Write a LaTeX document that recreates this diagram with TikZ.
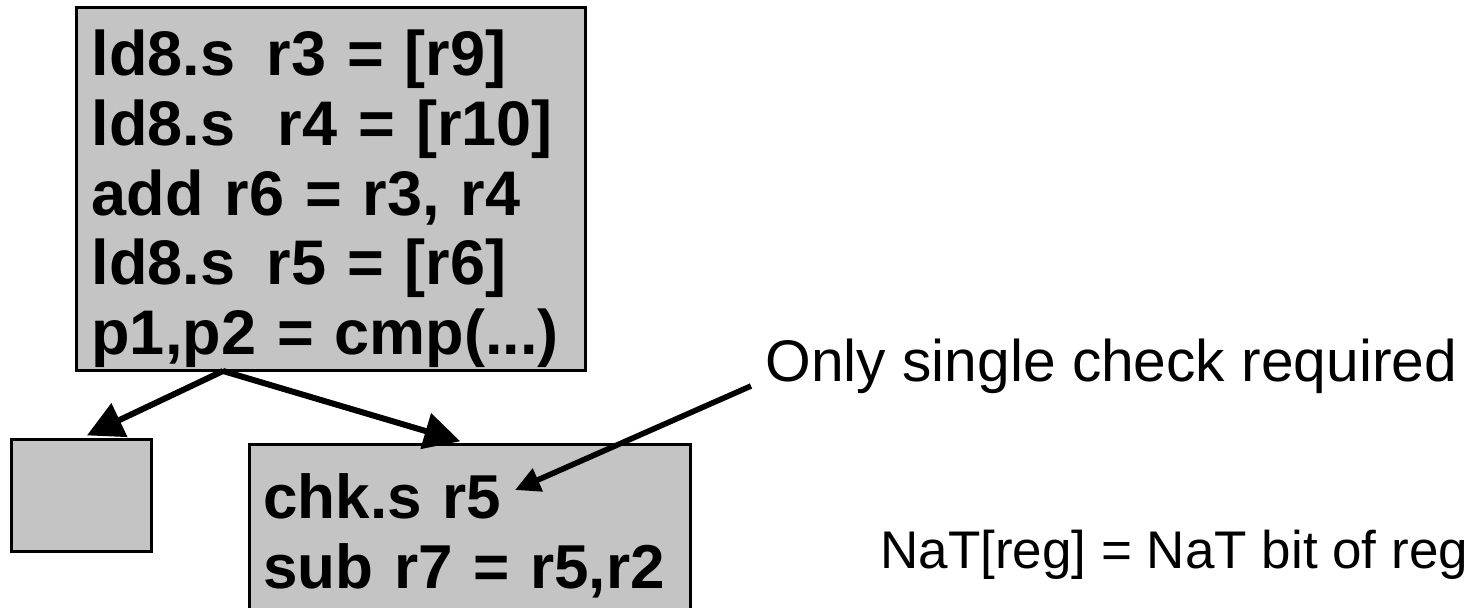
\documentclass[tikz,border=0pt]{standalone}
\usepackage{fontspec}
\setmainfont{Liberation Sans}
\usetikzlibrary{arrows.meta, positioning, calc}
\definecolor{boxgray}{RGB}{196, 196, 196}

\begin{document}
\begin{tikzpicture}[
  x=0.5pt, y=-0.5pt,
  block/.style={draw=black, fill=boxgray, line width=1.5pt, anchor=north west, align=left,
    font=\fontsize{31.5pt}{34.9pt}\selectfont\bfseries, inner ysep=0pt},
  flow/.style={-{Triangle[length=18pt, width=18pt]}, line width=3pt, shorten >=3pt},
  callout/.style={-{Triangle[length=12.5pt, width=12pt]}, line width=2.8pt},
  note/.style={inner sep=0pt, anchor=base west},
]
  \useasboundingbox (0,0) rectangle (1476,608);

  \node[block, inner xsep=7.75pt, text width=239pt, text height=33.75pt, text depth=147.75pt] (top) at (74.5,6.5)
    {ld8.s\hspace{0.5em}r3 = [r9]\\
     ld8.s\hspace{0.68em}r4 = [r10]\\
     add r6 = r3, r4\\
     ld8.s\hspace{0.5em}r5 = [r6]\\
     p1,p2 = cmp(...)};
  \node[block, anchor=center, minimum width=70pt, minimum height=56pt, inner sep=0pt] (miss) at (81.5,495.5) {};
  \node[block, line width=1.3pt, font=\fontsize{31pt}{35pt}\selectfont\bfseries, inner xsep=7pt,
        text width=206.5pt, text height=37pt, text depth=56.5pt] (hit) at (248,443)
    {chk.s r5\\
     sub r7 = r5,r2};

  \node[note, font=\fontsize{29.35pt}{32pt}\selectfont] (only) at (765,382) {Only single check required};
  \node[note, font=\fontsize{26.5pt}{30pt}\selectfont] (nat) at (880,568) {NaT[reg] = NaT bit of reg};

  \coordinate (split) at (223,371);
  \coordinate (r5end) at (515,490);

  \draw[flow] (split) -- (miss.north);
  \draw[flow] (split) -- ([xshift=109pt]hit.north west);
  \draw[callout] ($(only.base west)+(-14,4)$) -- (r5end);
\end{tikzpicture}
\end{document}
